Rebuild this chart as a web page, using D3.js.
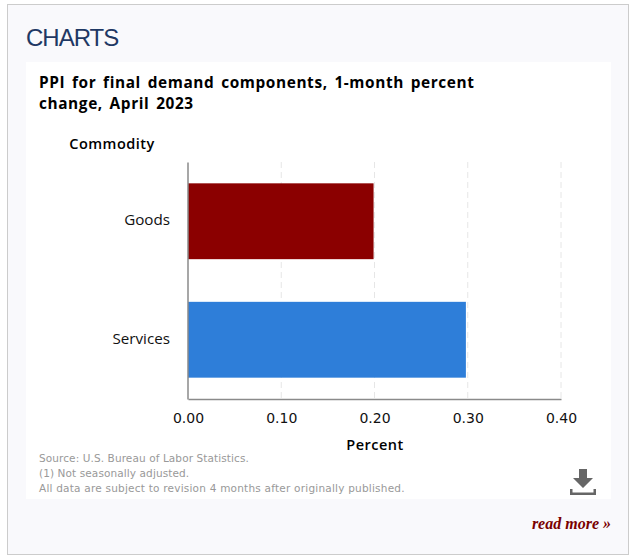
<!DOCTYPE html>
<html><head><meta charset="utf-8">
<script src="https://cdn.jsdelivr.net/npm/d3@7"></script>
<style>html,body{margin:0;padding:0;background:#fff}svg{display:block}</style>
</head><body><svg id="c" width="635" height="560"></svg>
<script>
const categories = ["Goods", "Services"];
const values = [0.199, 0.298];
const barColors = ["#8b0000", "#2e7ed9"];
const xTicks = [0, 0.1, 0.2, 0.3, 0.4];
const titleLines = ["PPI for final demand components, 1-month percent", "change, April 2023"];
const notes = ["Source: U.S. Bureau of Labor Statistics.", "(1) Not seasonally adjusted.", "All data are subject to revision 4 months after originally published."];

const sans = "'Open Sans','Noto Sans',sans-serif";
const svg = d3.select("#c");
svg.append("rect").attr("x",7.5).attr("y",4.5).attr("width",621).attr("height",550).attr("fill","#f9f9fc").attr("stroke","#cccccc");
svg.append("rect").attr("x",26).attr("y",62).attr("width",585).attr("height",437).attr("fill","#ffffff");
svg.append("text").attr("x",26).attr("y",46).attr("font-family","'Liberation Sans',Arial,sans-serif").attr("font-size",24).attr("fill","#1f3864").attr("letter-spacing",-1).text("CHARTS");

svg.selectAll("text.t").data(titleLines).join("text").attr("class","t").attr("x",39).attr("y",(d,i)=>88+i*21)
  .attr("font-family",sans).attr("font-size",15.4).attr("font-weight",700).attr("letter-spacing",0.6).attr("word-spacing",2.2).attr("fill","#000").text(d=>d);

const x = d3.scaleLinear().domain([0,0.4]).range([188,561]);
const y = d3.scaleBand().domain(categories).range([162,399]).paddingInner(0.36).paddingOuter(0.18);

svg.append("g").selectAll("line").data(xTicks.slice(1)).join("line")
  .attr("x1",d=>x(d)).attr("x2",d=>x(d)).attr("y1",162).attr("y2",399)
  .attr("stroke","#e6e6e6").attr("stroke-dasharray","6,4");

svg.append("g").selectAll("rect").data(categories).join("rect")
  .attr("x",x(0)).attr("y",d=>y(d)).attr("height",y.bandwidth())
  .attr("width",(d,i)=>x(values[i])-x(0)).attr("fill",(d,i)=>barColors[i]);

const xAxis = svg.append("g").attr("transform","translate(0,399)")
  .call(d3.axisBottom(x).tickValues(xTicks).tickFormat(d3.format(".2f")).tickSize(0).tickPadding(14));
xAxis.select(".domain").attr("stroke","#8a8a8a").attr("stroke-width",1.5);
xAxis.selectAll("text").attr("font-family","'DejaVu Sans',sans-serif").attr("font-size",14).attr("fill","#111");

const yAxis = svg.append("g").attr("transform","translate(187.5,0)")
  .call(d3.axisLeft(y).tickSize(0).tickPadding(17.5));
yAxis.select(".domain").attr("stroke","#8a8a8a").attr("stroke-width",1.5);
yAxis.selectAll("text").attr("font-family",sans).attr("font-size",15.2).attr("fill","#111").attr("dy","0.26em");

svg.append("text").attr("x",112).attr("y",149).attr("text-anchor","middle").attr("font-family",sans).attr("font-size",14.5).attr("font-weight",600).attr("letter-spacing",0.5).attr("fill","#000").text("Commodity");
svg.append("text").attr("x",375).attr("y",450).attr("text-anchor","middle").attr("font-family",sans).attr("font-size",14.5).attr("font-weight",600).attr("letter-spacing",0.5).attr("fill","#000").text("Percent");

svg.selectAll("text.n").data(notes).join("text").attr("class","n").attr("x",39).attr("y",(d,i)=>462+i*15)
  .attr("font-family","'DejaVu Sans',sans-serif").attr("font-size",10.5).attr("letter-spacing",(d,i)=>i<2?0.1:0.22).attr("fill","#999").text(d=>d);

const icon = svg.append("g").attr("fill","#666");
icon.append("path").attr("d","M579 469h8v9h6l-10 10l-10-10h6z");
icon.append("path").attr("d","M570 489h2.5v3.5h21v-3.5h2.5v6h-26z");

svg.append("text").attr("x",611).attr("y",529).attr("text-anchor","end").attr("font-family","'Liberation Serif',serif").attr("font-style","italic").attr("font-weight",700).attr("font-size",16).attr("fill","#7a0000").text("read more »");
</script></body></html>
